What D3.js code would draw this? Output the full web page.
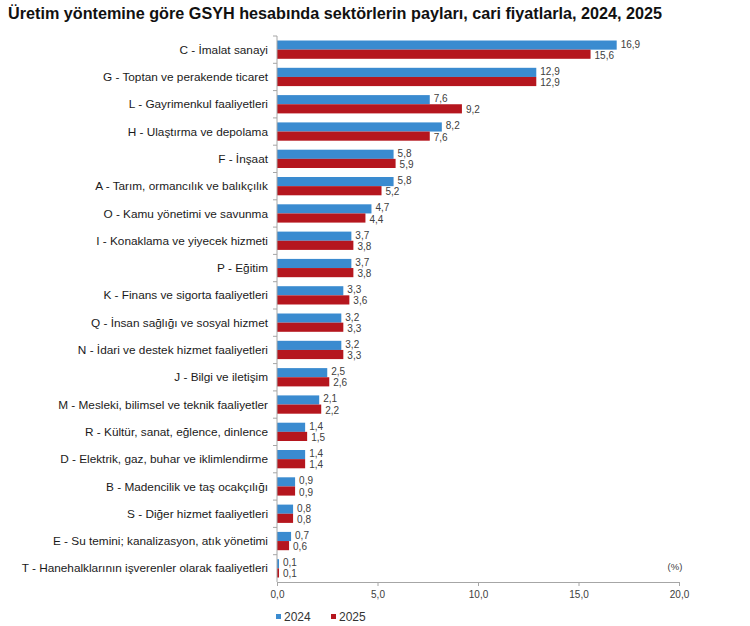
<!DOCTYPE html>
<html>
<head>
<meta charset="utf-8">
<script src="https://cdn.jsdelivr.net/npm/d3@7"></script>
<style>
  body { margin: 0; background: #fff; font-family: "Liberation Sans", Arial, sans-serif; }
  .axis path, .axis line { stroke: #a6a6a6; }
  .axis text { fill: #404040; font-size: 10px; font-family: "Liberation Sans", Arial, sans-serif; }
</style>
</head>
<body>
<div id="chart"></div>
<script>
var categories = [
  "C - İmalat sanayi",
  "G - Toptan ve perakende ticaret",
  "L - Gayrimenkul faaliyetleri",
  "H - Ulaştırma ve depolama",
  "F - İnşaat",
  "A - Tarım, ormancılık ve balıkçılık",
  "O - Kamu yönetimi ve savunma",
  "I - Konaklama ve yiyecek hizmeti",
  "P - Eğitim",
  "K - Finans ve sigorta faaliyetleri",
  "Q - İnsan sağlığı ve sosyal hizmet",
  "N - İdari ve destek hizmet faaliyetleri",
  "J - Bilgi ve iletişim",
  "M - Mesleki, bilimsel ve teknik faaliyetler",
  "R - Kültür, sanat, eğlence, dinlence",
  "D - Elektrik, gaz, buhar ve iklimlendirme",
  "B - Madencilik ve taş ocakçılığı",
  "S - Diğer hizmet faaliyetleri",
  "E - Su temini; kanalizasyon, atık yönetimi",
  "T - Hanehalklarının işverenler olarak faaliyetleri"
];
var values2024 = [16.9, 12.9, 7.6, 8.2, 5.8, 5.8, 4.7, 3.7, 3.7, 3.3, 3.2, 3.2, 2.5, 2.1, 1.4, 1.4, 0.9, 0.8, 0.7, 0.1];
var values2025 = [15.6, 12.9, 9.2, 7.6, 5.9, 5.2, 4.4, 3.8, 3.8, 3.6, 3.3, 3.3, 2.6, 2.2, 1.5, 1.4, 0.9, 0.8, 0.6, 0.1];
var seriesNames = ["2024", "2025"];
var colors = ["#3a8bd0", "#b5161e"];
var xTicks = [0, 5, 10, 15, 20];

var W = 750, H = 626;
var margin = {top: 36, right: 71, bottom: 44, left: 277};
var width = W - margin.left - margin.right;
var height = H - margin.top - margin.bottom;

var fmt = function (v) { return d3.format(".1f")(v).replace(".", ","); };

var svg = d3.select("#chart").append("svg")
    .attr("width", W)
    .attr("height", H);

svg.append("text")
    .attr("x", 8)
    .attr("y", 19)
    .attr("font-size", "16.2px")
    .attr("font-weight", "bold")
    .attr("fill", "#111")
    .text("Üretim yöntemine göre GSYH hesabında sektörlerin payları, cari fiyatlarla, 2024, 2025");

var g = svg.append("g")
    .attr("transform", "translate(" + margin.left + "," + margin.top + ")");

var x = d3.scaleLinear().domain([0, 20]).range([0, width]);
var y = d3.scaleBand().domain(categories).range([0, height]).paddingInner(0.33).paddingOuter(0.165);
var y1 = d3.scaleBand().domain(seriesNames).range([0, y.bandwidth()]);

var rows = categories.map(function (c, i) {
  return {cat: c, vals: [values2024[i], values2025[i]]};
});

// bars
var grp = g.selectAll(".row")
    .data(rows)
  .enter().append("g")
    .attr("class", "row")
    .attr("transform", function (d) { return "translate(0," + y(d.cat) + ")"; });

grp.selectAll("rect")
    .data(function (d) { return d.vals.map(function (v, k) { return {k: k, v: v}; }); })
  .enter().append("rect")
    .attr("x", 0)
    .attr("y", function (d) { return y1(seriesNames[d.k]); })
    .attr("width", function (d) { return x(d.v); })
    .attr("height", y1.bandwidth())
    .attr("fill", function (d) { return colors[d.k]; });

grp.selectAll(".val")
    .data(function (d) { return d.vals.map(function (v, k) { return {k: k, v: v}; }); })
  .enter().append("text")
    .attr("class", "val")
    .attr("x", function (d) { return x(d.v) + 4; })
    .attr("y", function (d) { return y1(seriesNames[d.k]) + y1.bandwidth() / 2 + (d.k === 0 ? -1 : 1); })
    .attr("dy", "0.35em")
    .attr("font-size", "10px")
    .attr("fill", "#404040")
    .text(function (d) { return fmt(d.v); });

// category labels
g.selectAll(".cat")
    .data(categories)
  .enter().append("text")
    .attr("class", "cat")
    .attr("x", -9)
    .attr("y", function (d) { return y(d) + y.bandwidth() / 2; })
    .attr("dy", "0.35em")
    .attr("text-anchor", "end")
    .attr("font-size", "11.8px")
    .attr("fill", "#1a1a1a")
    .text(function (d) { return d; });

// left axis with ticks between bands
var step = y.step();
g.append("line")
    .attr("x1", 0).attr("x2", 0)
    .attr("y1", 0).attr("y2", height)
    .attr("stroke", "#a6a6a6");
g.selectAll(".ytick")
    .data(d3.range(categories.length))
  .enter().append("line")
    .attr("class", "ytick")
    .attr("x1", -4).attr("x2", 0)
    .attr("y1", function (i) { return y(categories[i]) - (step - y.bandwidth()) / 2; })
    .attr("y2", function (i) { return y(categories[i]) - (step - y.bandwidth()) / 2; })
    .attr("stroke", "#a6a6a6");

// bottom axis
g.append("g")
    .attr("class", "axis")
    .attr("transform", "translate(0," + height + ")")
    .call(d3.axisBottom(x).tickValues(xTicks).tickSize(4).tickSizeOuter(0).tickPadding(5).tickFormat(fmt));

g.append("text")
    .attr("x", width - 4)
    .attr("y", height - 12)
    .attr("text-anchor", "middle")
    .attr("font-size", "9.5px")
    .attr("fill", "#404040")
    .text("(%)");

// legend
var legend = svg.append("g")
    .attr("transform", "translate(276," + (H - 5) + ")");
var li = legend.selectAll("g")
    .data(seriesNames)
  .enter().append("g")
    .attr("transform", function (d, i) { return "translate(" + (i * 55) + ",0)"; });
li.append("rect")
    .attr("x", 0).attr("y", -7)
    .attr("width", 5).attr("height", 5)
    .attr("fill", function (d, i) { return colors[i]; });
li.append("text")
    .attr("x", 8)
    .attr("y", 0)
    .attr("font-size", "12px")
    .attr("fill", "#333")
    .text(function (d) { return d; });
</script>
</body>
</html>
